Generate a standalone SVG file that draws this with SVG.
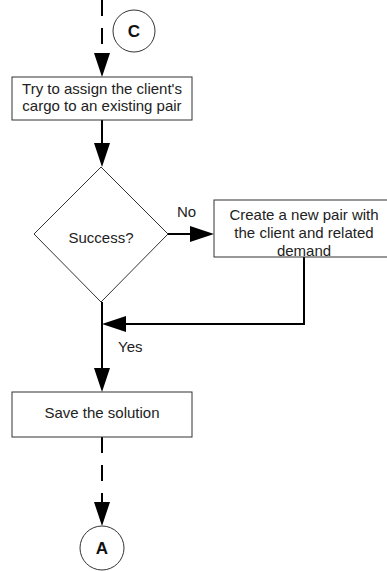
<svg xmlns="http://www.w3.org/2000/svg" width="387" height="571" viewBox="0 0 387 571">
  <style>
    .shape { fill: #ffffff; stroke: #333333; stroke-width: 1; }
    .label { font-family: "Liberation Sans", Arial, Helvetica, sans-serif; font-size: 15px; fill: #222222; text-anchor: middle; }
    .conn-label { font-family: "Liberation Sans", Arial, Helvetica, sans-serif; font-size: 15px; fill: #222222; }
    .ref { font-family: "Liberation Sans", Arial, Helvetica, sans-serif; font-size: 17px; font-weight: bold; fill: #111111; text-anchor: middle; }
    .edge { fill: none; stroke: #000000; stroke-width: 2; }
    .dashed { stroke-dasharray: 16 12; }
  </style>
  <defs>
    <marker id="arrow" markerUnits="userSpaceOnUse" markerWidth="24" markerHeight="16" viewBox="0 0 24 16" refX="18" refY="8" orient="auto">
      <path d="M0,0 L24,8 L0,16 Z" fill="#000000"/>
    </marker>
  </defs>

  <rect width="387" height="571" fill="#ffffff"/>

  <!-- connectors -->
  <g id="connectors">
    <path class="edge dashed" d="M102,0 V71" marker-end="url(#arrow)"/>
    <path class="edge" d="M102,120 V161" marker-end="url(#arrow)"/>
    <path class="edge" d="M168,234 H208" marker-end="url(#arrow)"/>
    <path class="edge" d="M304,257 V324 H108" marker-end="url(#arrow)"/>
    <path class="edge" d="M102,302 V386" marker-end="url(#arrow)"/>
    <path class="edge dashed" d="M102,437 V520" marker-end="url(#arrow)"/>
    <text class="conn-label" x="177" y="217">No</text>
    <text class="conn-label" x="118" y="352">Yes</text>
  </g>

  <!-- off-page reference C -->
  <g id="ref-c">
    <circle class="shape" cx="134" cy="31" r="21"/>
    <text class="ref" x="134" y="37">C</text>
  </g>

  <!-- assign cargo -->
  <g id="assign">
    <rect class="shape" x="12" y="77" width="180" height="43"/>
    <text class="label" x="102" y="94">Try to assign the client's</text>
    <text class="label" x="102" y="111">cargo to an existing pair</text>
  </g>

  <!-- decision -->
  <g id="success">
    <polygon class="shape" points="101,167 168,234 101,302 34,234"/>
    <text class="label" x="101" y="243">Success?</text>
  </g>

  <!-- new pair -->
  <g id="new-pair">
    <rect class="shape" x="214" y="200" width="180" height="57"/>
    <text class="label" x="304" y="220">Create a new pair with</text>
    <text class="label" x="304" y="238">the client and related</text>
    <text class="label" x="304" y="256">demand</text>
  </g>

  <!-- save -->
  <g id="save">
    <rect class="shape" x="12" y="392" width="180" height="45"/>
    <text class="label" x="102" y="418">Save the solution</text>
  </g>

  <!-- off-page reference A -->
  <g id="ref-a">
    <circle class="shape" cx="102" cy="548" r="22"/>
    <text class="ref" x="102" y="554">A</text>
  </g>
</svg>
